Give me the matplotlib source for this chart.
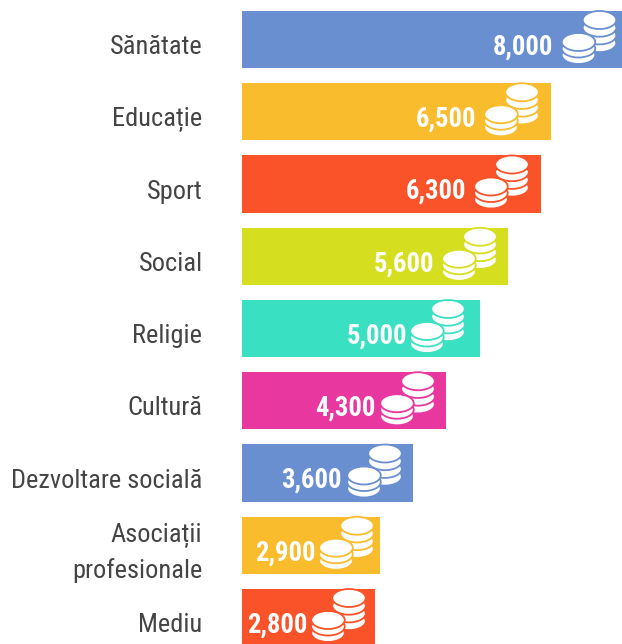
import matplotlib
matplotlib.use('Agg')
import matplotlib.pyplot as plt
from matplotlib import font_manager
from matplotlib.patches import Ellipse
from matplotlib.transforms import IdentityTransform

categories = ['Sănătate', 'Educație', 'Sport', 'Social', 'Religie', 'Cultură',
              'Dezvoltare socială', 'Asociații\nprofesionale', 'Mediu']
values = [8000, 6500, 6300, 5600, 5000, 4300, 3600, 2900, 2800]
colors = ['#6a8fd0', '#f8bc2c', '#fa5229', '#d6df1f', '#3ae0c2', '#e8379f',
          '#6a8fd0', '#f8bc2c', '#fa5229']

# where the icon and value sit, in px left of the bar end
coin_dx = [22.5, 28.75, 29.25, 28, 31.5, 28.25, 28, 22.75, 26]
label_dx = [69, 74.75, 75.25, 74, 72.5, 71.25, 71, 63.75, 67]

W, H = 622, 644
fig = plt.figure(figsize=(W / 100, H / 100), dpi=100)

names = {f.name for f in font_manager.fontManager.ttflist}
family = 'Roboto'
for f in ['Roboto Condensed', 'Liberation Sans Narrow']:
    if f in names:
        family = f
        break

# axes runs from the left of the bars to the right edge, 72.25 px per row
ax = fig.add_axes([242 / W, 0, 380 / W, 1])
ax.set_xlim(0, 8000)
ax.set_ylim((644 - 39.5) / 72.25, -39.5 / 72.25)
ax.axis('off')

ax.barh(range(len(values)), values, height=0.795, color=colors)


def draw_stack(x, y, layers, step, color):
    # bottom coin first so the upper ones cover it
    for k in range(layers - 1, -1, -1):
        ax.add_patch(Ellipse((x, y - k * step), 33.5, 18, facecolor='white', edgecolor=color,
                             linewidth=1.3, transform=IdentityTransform(), zorder=3, clip_on=False))


for i, (v, c) in enumerate(zip(values, colors)):
    end_x, mid_y = ax.transData.transform((v, i))
    draw_stack(end_x - coin_dx[i], mid_y + 19.5, 4, 7.7, c)
    draw_stack(end_x - coin_dx[i] - 21, mid_y - 2.5, 3, 6.5, c)
    ax.annotate('{:,}'.format(v), (v, i), xytext=(-label_dx[i] * 0.72, -7.5 * 0.72), textcoords='offset points',
                ha='right', va='center', color='white', fontsize=19.2, fontweight='bold',
                family=family, zorder=4)
    ax.annotate(categories[i], (0, i), xytext=(-39.5 * 0.72, -7.5 * 0.72), textcoords='offset points',
                ha='right', va='center', color='#444444', fontsize=19, family=family,
                linespacing=1.5, annotation_clip=False)

fig.savefig('out.png', dpi=100)
